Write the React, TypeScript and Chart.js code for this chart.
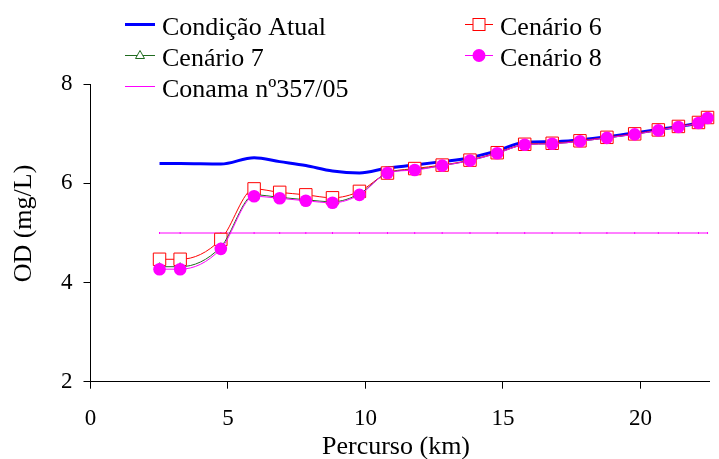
import React, { useEffect, useRef } from "react";
import { Chart, registerables } from "chart.js";

Chart.register(...registerables);

const percursoKm = [2.51, 3.26, 4.74, 5.95, 6.88, 7.83, 8.8, 9.78, 10.8, 11.79, 12.79, 13.8, 14.79, 15.79, 16.79, 17.8, 18.78, 19.79, 20.65, 21.38, 22.11, 22.44];
const condicaoAtual = [6.4, 6.4, 6.39, 6.52, 6.44, 6.36, 6.25, 6.21, 6.31, 6.37, 6.44, 6.52, 6.66, 6.83, 6.84, 6.88, 6.94, 7.02, 7.09, 7.15, 7.22, 7.28];
const cenario6 = [4.47, 4.47, 4.87, 5.89, 5.82, 5.77, 5.71, 5.84, 6.21, 6.3, 6.37, 6.47, 6.62, 6.79, 6.81, 6.86, 6.93, 7.0, 7.08, 7.15, 7.23, 7.33];
const cenario7 = [4.32, 4.32, 4.72, 5.77, 5.72, 5.67, 5.63, 5.79, 6.21, 6.28, 6.36, 6.46, 6.61, 6.78, 6.8, 6.85, 6.92, 6.99, 7.07, 7.14, 7.22, 7.32];
const cenario8 = [4.27, 4.27, 4.68, 5.74, 5.7, 5.65, 5.61, 5.77, 6.21, 6.27, 6.36, 6.46, 6.61, 6.78, 6.8, 6.85, 6.92, 6.99, 7.07, 7.14, 7.22, 7.32];
const conama = [5, 5, 5, 5, 5, 5, 5, 5, 5, 5, 5, 5, 5, 5, 5, 5, 5, 5, 5, 5, 5, 5];

const legendLabels = ["Condição Atual", "Cenário 6", "Cenário 7", "Cenário 8", "Conama nº357/05"];
const xTitle = "Percurso (km)";
const yTitle = "OD (mg/L)";

const FONT = '"Liberation Serif", "Times New Roman", Times, serif';
const BLUE = "#0000FF";
const RED = "#FF0000";
const GREEN = "#1F6B1F";
const MAGENTA = "#FF00FF";

const toXY = (ys: number[]) => ys.map((y, i) => ({ x: percursoKm[i], y }));

// warm up the serif font before the chart draws
function warmFont() {
  try {
    const c = document.createElement("canvas");
    const cx = c.getContext("2d");
    if (cx) {
      [23, 26].forEach((s) => {
        cx.font = `${s}px ${FONT}`;
        cx.measureText("Condição Atual Cenário 0123456789 Percurso (km) OD (mg/L) nº");
        cx.fillText("Condição Atual 0123456789", 0, 20);
      });
    }
  } catch (e) {
    /* ignore */
  }
}

const overlayPlugin = {
  id: "overlay",
  afterDraw(chart: any) {
    const ctx = chart.ctx as CanvasRenderingContext2D;
    ctx.save();
    ctx.fillStyle = "#000";
    ctx.font = `26px ${FONT}`;
    ctx.textAlign = "left";
    ctx.textBaseline = "alphabetic";

    const c1Line = [125, 155];
    const c2Line = [465, 493];
    const c1Text = 162;
    const c2Text = 500;
    const rows = [24.5, 55.5, 86.5];
    const base = [34.5, 66, 97];

    const hline = (x0: number, x1: number, y: number, color: string, w: number) => {
      ctx.beginPath();
      ctx.strokeStyle = color;
      ctx.lineWidth = w;
      ctx.moveTo(x0, y);
      ctx.lineTo(x1, y);
      ctx.stroke();
    };

    hline(c1Line[0], c1Line[1], rows[0], BLUE, 3);
    ctx.fillText(legendLabels[0], c1Text, base[0]);

    hline(c1Line[0], c1Line[1], rows[1], GREEN, 1);
    {
      const cx = (c1Line[0] + c1Line[1]) / 2;
      const cy = rows[1];
      ctx.beginPath();
      ctx.moveTo(cx, cy - 5);
      ctx.lineTo(cx + 4.5, cy + 3);
      ctx.lineTo(cx - 4.5, cy + 3);
      ctx.closePath();
      ctx.fillStyle = "#fff";
      ctx.fill();
      ctx.strokeStyle = GREEN;
      ctx.lineWidth = 1;
      ctx.stroke();
      ctx.fillStyle = "#000";
    }
    ctx.fillText(legendLabels[2], c1Text, base[1]);

    hline(c1Line[0], c1Line[1], rows[2], MAGENTA, 1);
    ctx.fillText(legendLabels[4], c1Text, base[2]);

    hline(c2Line[0], c2Line[1], rows[0], RED, 1);
    {
      const cx = (c2Line[0] + c2Line[1]) / 2;
      ctx.fillStyle = "#fff";
      ctx.fillRect(cx - 6, rows[0] - 6, 12, 12);
      ctx.strokeStyle = RED;
      ctx.lineWidth = 1;
      ctx.strokeRect(cx - 6, rows[0] - 6, 12, 12);
      ctx.fillStyle = "#000";
    }
    ctx.fillText(legendLabels[1], c2Text, base[0]);

    hline(c2Line[0], c2Line[1], rows[1], MAGENTA, 1);
    {
      const cx = (c2Line[0] + c2Line[1]) / 2;
      ctx.beginPath();
      ctx.arc(cx, rows[1], 6.5, 0, Math.PI * 2);
      ctx.fillStyle = MAGENTA;
      ctx.fill();
      ctx.fillStyle = "#000";
    }
    ctx.fillText(legendLabels[3], c2Text, base[1]);

    ctx.textAlign = "center";
    ctx.fillText(xTitle, 396, 454);
    ctx.translate(24, 223.5);
    ctx.rotate(-Math.PI / 2);
    ctx.textBaseline = "middle";
    ctx.fillText(yTitle, 0, 0);
    ctx.restore();
  },
};

export default function App() {
  const ref = useRef<HTMLCanvasElement | null>(null);

  useEffect(() => {
    if (!ref.current) return;
    let alive = true;
    warmFont();
    const chart = new Chart(ref.current, {
      type: "line",
      data: {
        datasets: [
          {
            label: legendLabels[4],
            data: toXY(conama),
            borderColor: MAGENTA,
            borderWidth: 1,
            pointStyle: "line",
            rotation: 90,
            pointRadius: 1,
            pointBorderColor: MAGENTA,
            pointBorderWidth: 1,
            order: 10,
            clip: false,
          },
          {
            label: legendLabels[0],
            data: toXY(condicaoAtual),
            borderColor: BLUE,
            borderWidth: 3,
            pointRadius: 0,
            cubicInterpolationMode: "monotone",
            order: 9,
            clip: false,
          },
          {
            label: legendLabels[1],
            data: toXY(cenario6),
            borderColor: RED,
            borderWidth: 1,
            pointStyle: "rect",
            pointRadius: 8.8,
            pointBackgroundColor: "#fff",
            pointBorderColor: RED,
            pointBorderWidth: 1,
            cubicInterpolationMode: "monotone",
            order: 3,
            clip: false,
          },
          {
            label: legendLabels[2],
            data: toXY(cenario7),
            borderColor: GREEN,
            borderWidth: 1,
            pointStyle: "triangle",
            pointRadius: 4,
            pointBackgroundColor: "#fff",
            pointBorderColor: GREEN,
            pointBorderWidth: 1,
            cubicInterpolationMode: "monotone",
            order: 2,
            clip: false,
          },
          {
            label: legendLabels[3],
            data: toXY(cenario8),
            borderColor: MAGENTA,
            borderWidth: 1,
            pointStyle: "circle",
            pointRadius: 6.3,
            pointBackgroundColor: MAGENTA,
            pointBorderColor: MAGENTA,
            pointBorderWidth: 0,
            cubicInterpolationMode: "monotone",
            order: 1,
            clip: false,
          },
        ],
      },
      options: {
        animation: false,
        responsive: false,
        events: [],
        layout: { padding: { top: 84.3, right: 2, left: 0, bottom: 0 } },
        plugins: { legend: { display: false }, tooltip: { enabled: false } },
        scales: {
          x: {
            type: "linear",
            min: 0,
            max: 22.5,
            afterFit: (s: any) => {
              s.height = 459 - 381.7;
            },
            ticks: {
              stepSize: 5,
              includeBounds: false,
              color: "#000",
              padding: 16,
              maxRotation: 0,
              font: { family: FONT, size: 23 },
            },
            grid: { drawOnChartArea: false, tickLength: 7, tickColor: "#000", color: "#000" },
            border: { color: "#000", width: 1 },
          },
          y: {
            min: 2,
            max: 8,
            afterFit: (s: any) => {
              s.width = 90.5;
            },
            ticks: {
              stepSize: 2,
              color: "#000",
              padding: 11,
              font: { family: FONT, size: 23 },
            },
            grid: { drawOnChartArea: false, tickLength: 7, tickColor: "#000", color: "#000" },
            border: { color: "#000", width: 1 },
          },
        },
      },
      plugins: [overlayPlugin],
    });
    const redraw = () => {
      if (alive) chart.update();
    };
    const fonts = (document as any).fonts;
    if (fonts && fonts.load) {
      Promise.all([
        fonts.load(`26px "Liberation Serif"`, "Condição Atual 0123456789"),
        fonts.load(`23px "Liberation Serif"`, "0123456789"),
      ])
        .then(redraw)
        .catch(() => {});
      if (fonts.ready) fonts.ready.then(redraw);
    }
    const t1 = setTimeout(redraw, 30);
    const t2 = setTimeout(redraw, 150);
    return () => {
      alive = false;
      clearTimeout(t1);
      clearTimeout(t2);
      chart.destroy();
    };
  }, []);

  return (
    <div style={{ position: "fixed", left: 0, top: 0, width: 719, height: 459, background: "#fff" }}>
      <span
        aria-hidden="true"
        style={{ position: "absolute", left: -2000, top: 0, fontFamily: FONT, fontSize: 26, visibility: "hidden" }}
      >
        Condição Atual Cenário 0123456789 nº
      </span>
      <canvas ref={ref} width={719} height={459} style={{ display: "block", position: "relative" }} />
    </div>
  );
}
